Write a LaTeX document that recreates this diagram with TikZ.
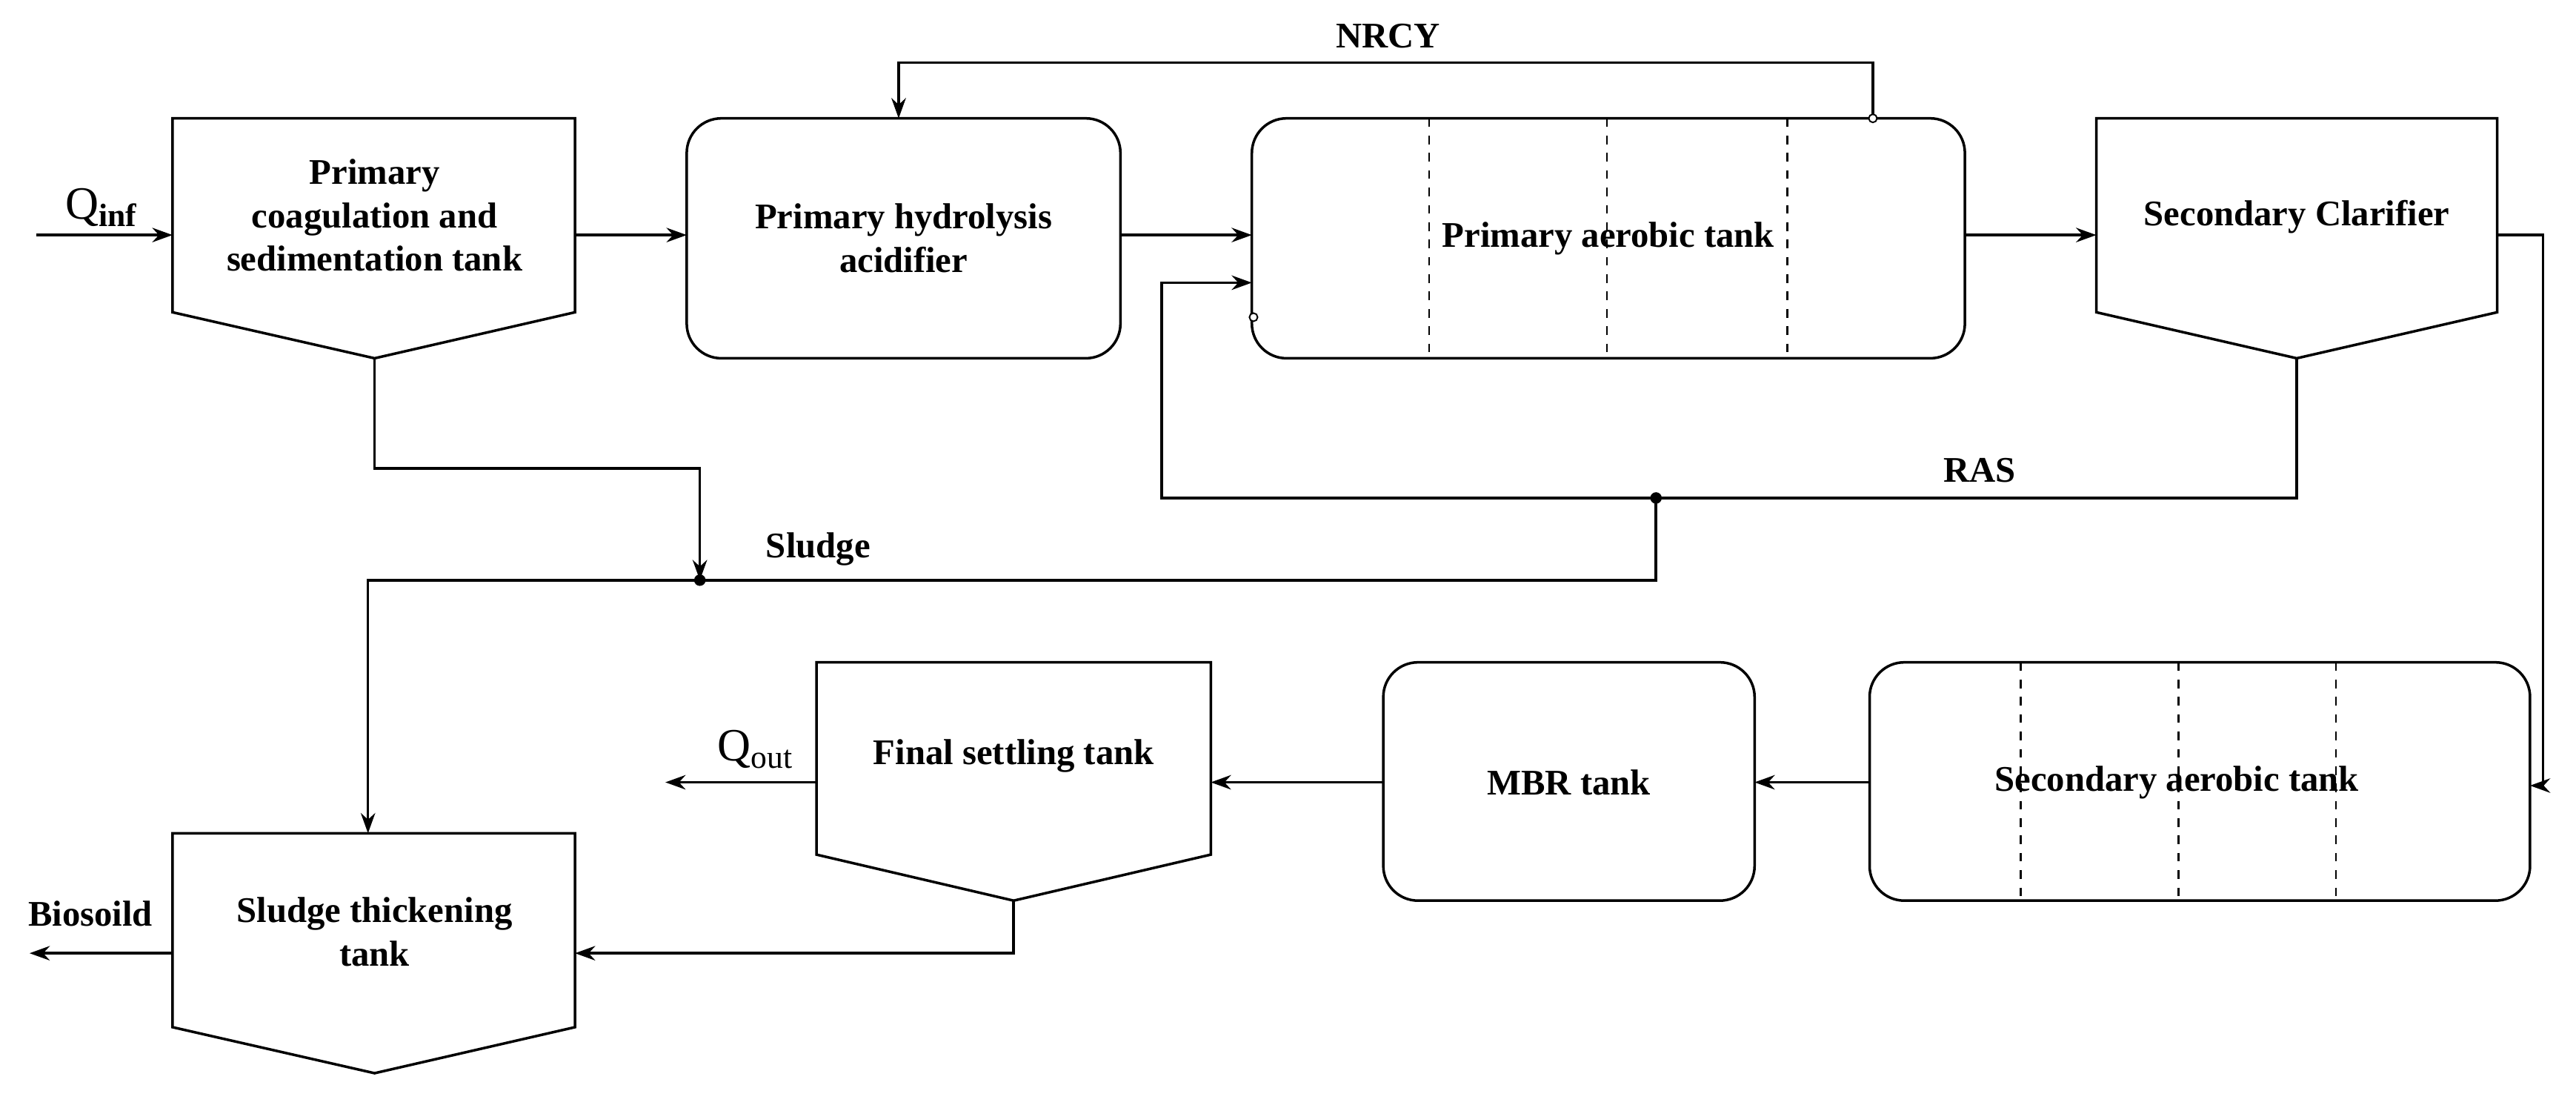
\documentclass[tikz,border=0pt]{standalone}
\usepackage{fontspec}
\setmainfont{Liberation Serif}
\usetikzlibrary{arrows.meta}
\begin{document}
\begin{tikzpicture}[x=0.02cm,y=-0.02cm,
  box/.style={draw,line width=0.9pt},
  lbl/.style={font=\bfseries\fontsize{12.5}{15}\selectfont,align=center},
  flow/.style={draw,line width=0.9pt,-{Stealth[length=7pt,width=5pt]}},
  ln/.style={draw,line width=0.9pt},
  dv/.style={draw,dashed,line width=0.6pt}]
\useasboundingbox (0,0) rectangle (1568,674);
% tanks
\draw[box] (105,72)--(350,72)--(350,190)--(228,218)--(105,190)--cycle;
\node[lbl] (coag) at (228,131) {Primary\\coagulation and\\sedimentation tank};
\coordinate (coagB) at (228,218);
\draw[box,rounded corners=12pt] (418,72) rectangle (682,218);
\node[lbl] (hyd) at (550,145) {Primary hydrolysis\\acidifier};
\draw[box,rounded corners=12pt] (762,72) rectangle (1196,218);
\foreach \x in {870,978,1088} \draw[dv] (\x,72)--(\x,218);
\node[lbl] (aer) at (979,145) {Primary aerobic tank};
\draw[box] (1276,72)--(1520,72)--(1520,190)--(1398,218)--(1276,190)--cycle;
\node[lbl] (clar) at (1398,132) {Secondary Clarifier};
\draw[box,rounded corners=12pt] (1138,403) rectangle (1540,548);
\foreach \x in {1230,1326,1422} \draw[dv] (\x,403)--(\x,548);
\node[lbl] (sec) at (1325,476) {Secondary aerobic tank};
\draw[box,rounded corners=12pt] (842,403) rectangle (1068,548);
\node[lbl] (mbr) at (955,476) {MBR tank};
\draw[box] (497,403)--(737,403)--(737,520)--(617,548)--(497,520)--cycle;
\node[lbl] (fin) at (617,460) {Final settling tank};
\draw[box] (105,507)--(350,507)--(350,625)--(228,653)--(105,625)--cycle;
\node[lbl] (thk) at (228,567) {Sludge thickening\\tank};
% main flow
\coordinate (qin) at (22,143);
\path[flow] (qin)--(105,143);
\node[font=\fontsize{16}{18}\selectfont] (qinf) at (62,126) {Q\textsubscript{\bfseries inf}};
\path[flow] (350,143)--(418,143);
\path[flow] (682,143)--(762,143);
\path[flow] (1196,143)--(1276,143);
% NRCY
\path[flow] (1140,72)--(1140,38)--(547,38)--(547,72);
\draw[line width=0.5pt,fill=white] (1140,72) circle (2.5);
\node[lbl] (nrcy) at (845,22) {NRCY};
% RAS
\path[flow] (1398,218)--(1398,303)--(707,303)--(707,172)--(762,172);
\draw[line width=0.5pt,fill=white] (763,193) circle (2.5);
\node[lbl] (ras) at (1205,286) {RAS};
\fill (1008,303) circle (3.5);
% sludge
\path[ln] (1008,303)--(1008,353)--(426,353);
\path[flow] (426,353)--(224,353)--(224,507);
\path[flow] (coagB)--(228,285)--(426,285)--(426,353);
\fill (426,353) circle (3.5);
\node[lbl] (sl) at (498,334) {Sludge};
% secondary
\path[flow] (1520,143)--(1548,143)--(1548,478)--(1540,478);
\path[flow] (1138,476)--(1068,476);
\path[flow] (842,476)--(737,476);
\path[flow] (497,476)--(405,476);
\node[font=\fontsize{16}{18}\selectfont] (qout) at (460,456) {Q\textsubscript{out}};
\path[flow] (617,548)--(617,580)--(350,580);
\path[flow] (105,580)--(18,580);
\node[lbl] (bio) at (55,556) {Biosoild};
\end{tikzpicture}
\end{document}
